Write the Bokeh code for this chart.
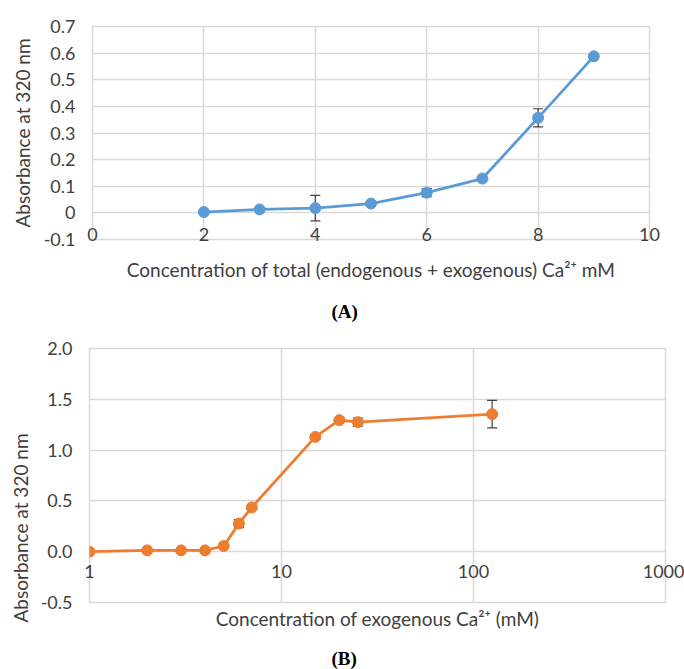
from bokeh.plotting import figure
from bokeh.layouts import column
from bokeh.models import ColumnDataSource, Whisker, TeeHead, FixedTicker, Title
from bokeh.embed import file_html
from bokeh.resources import INLINE

# ---- Panel A data ----
a_conc = [2, 3, 4, 5, 6, 7, 8, 9]
a_abs = [0.003, 0.013, 0.018, 0.035, 0.076, 0.129, 0.357, 0.588]
a_err = [0.0, 0.0, 0.048, 0.0, 0.015, 0.0, 0.034, 0.0]
a_xticks = [0, 2, 4, 6, 8, 10]
a_yticks = [-0.1, 0.0, 0.1, 0.2, 0.3, 0.4, 0.5, 0.6, 0.7]
a_ytick_labels = ["-0.1", "0", "0.1", "0.2", "0.3", "0.4", "0.5", "0.6", "0.7"]
a_xlabel = "Concentration of total (endogenous + exogenous) Ca\u00b2\u207a mM"

# ---- Panel B data ----
b_conc = [1, 2, 3, 4, 5, 6, 7, 15, 20, 25, 125]
b_abs = [0.0, 0.013, 0.013, 0.013, 0.056, 0.277, 0.436, 1.13, 1.295, 1.275, 1.354]
b_err = [0.0, 0.0, 0.0, 0.0, 0.01, 0.04, 0.02, 0.02, 0.02, 0.04, 0.135]
b_xticks = [1, 10, 100, 1000]
b_xtick_labels = ["1", "10", "100", "1000"]
b_yticks = [-0.5, 0.0, 0.5, 1.0, 1.5, 2.0]
b_ytick_labels = ["-0.5", "0.0", "0.5", "1.0", "1.5", "2.0"]
b_xlabel = "Concentration of exogenous Ca\u00b2\u207a (mM)"

ylabel = "Absorbance at 320 nm"

FONT = "Lato"
TXT = "#404040"
GRID = "#d9d9d9"
BLUE = "#5B9BD5"
ORANGE = "#ED7D31"
ERR = "#404040"
TICK_SIZE = "18px"
TITLE_SIZE = "19px"


def style(p):
    p.outline_line_color = GRID
    p.outline_line_width = 1.5
    p.background_fill_color = "white"
    p.border_fill_color = "white"
    for g in (p.xgrid, p.ygrid):
        g.grid_line_color = GRID
        g.grid_line_width = 1.5
    for ax in (p.xaxis, p.yaxis):
        ax.axis_line_color = None
        ax.major_tick_line_color = None
        ax.minor_tick_line_color = None
        ax.major_tick_out = 0
        ax.major_tick_in = 0
        ax.minor_tick_out = 0
        ax.minor_tick_in = 0
        ax.major_label_text_font = FONT
        ax.major_label_text_font_size = TICK_SIZE
        ax.major_label_text_color = TXT
        ax.axis_label_text_font = FONT
        ax.axis_label_text_font_size = TITLE_SIZE
        ax.axis_label_text_font_style = "normal"
        ax.axis_label_text_color = TXT


def whiskers(p, xs, ys, es):
    src = ColumnDataSource(dict(
        x=[x for x, e in zip(xs, es) if e > 0],
        upper=[y + e for y, e in zip(ys, es) if e > 0],
        lower=[y - e for y, e in zip(ys, es) if e > 0],
    ))
    w = Whisker(base="x", upper="upper", lower="lower", source=src,
                line_color=ERR, line_width=1.2,
                upper_head=TeeHead(size=10, line_color=ERR, line_width=1.2),
                lower_head=TeeHead(size=10, line_color=ERR, line_width=1.2))
    p.add_layout(w)


def panel_tag(text, offset, standoff):
    return Title(text=text, align="left", offset=offset,
                 text_font="Liberation Serif", text_font_style="bold",
                 text_font_size="19px", text_color="black", standoff=standoff)


# ---------------- Panel A ----------------
# frame: left 92, right 649, top 26, bottom 239 (page px)
p1 = figure(width=684, height=336, x_range=(0, 10), y_range=(-0.1, 0.7),
            output_backend="svg", toolbar_location=None, frame_align=False,
            min_border_left=92, min_border_right=35, min_border_top=26,
            min_border_bottom=97)
style(p1)
p1.xaxis.ticker = FixedTicker(ticks=a_xticks)
p1.yaxis.ticker = FixedTicker(ticks=a_yticks)
p1.yaxis.major_label_overrides = {t: l for t, l in zip(a_yticks, a_ytick_labels)}
p1.xaxis.major_label_standoff = -12
p1.yaxis.major_label_standoff = 17
p1.xaxis.axis_label = a_xlabel
p1.xaxis.axis_label_standoff = 14
p1.yaxis.axis_label = ylabel
p1.yaxis.axis_label_standoff = 7

p1.line(a_conc, a_abs, line_color=BLUE, line_width=2.8)
whiskers(p1, a_conc, a_abs, a_err)
p1.scatter(a_conc, a_abs, size=11, fill_color=BLUE, line_color=BLUE)
p1.add_layout(panel_tag("(A)", 343 - 92 - 12, 30), "below")

# ---------------- Panel B ----------------
# frame: left 89, right 665, top 348, bottom 602 (page px)
p2 = figure(width=684, height=333, x_axis_type="log", x_range=(1, 1000),
            y_range=(-0.5, 2.0), output_backend="svg", toolbar_location=None,
            frame_align=False,
            min_border_left=89, min_border_right=19, min_border_top=12,
            min_border_bottom=67)
style(p2)
p2.xaxis.ticker = FixedTicker(ticks=b_xticks)
p2.xaxis.major_label_overrides = {t: l for t, l in zip(b_xticks, b_xtick_labels)}
p2.yaxis.ticker = FixedTicker(ticks=b_yticks)
p2.yaxis.major_label_overrides = {t: l for t, l in zip(b_yticks, b_ytick_labels)}
p2.xaxis.major_label_standoff = -38
p2.yaxis.major_label_standoff = 17
p2.xaxis.axis_label = b_xlabel
p2.xaxis.axis_label_standoff = 26

p2.line(b_conc, b_abs, line_color=ORANGE, line_width=2.8)
whiskers(p2, b_conc, b_abs, b_err)
p2.scatter(b_conc, b_abs, size=11, fill_color=ORANGE, line_color=ORANGE)

p2.add_layout(Title(text=ylabel, align="left", offset=-20, standoff=12,
                    text_font=FONT, text_font_size=TITLE_SIZE,
                    text_font_style="normal", text_color=TXT), "left")
p2.add_layout(panel_tag("\n(B)", 343 - 89 - 12, -16), "below")

layout = column(p1, p2, spacing=0)
open("out.html", "w").write(file_html(layout, INLINE))
